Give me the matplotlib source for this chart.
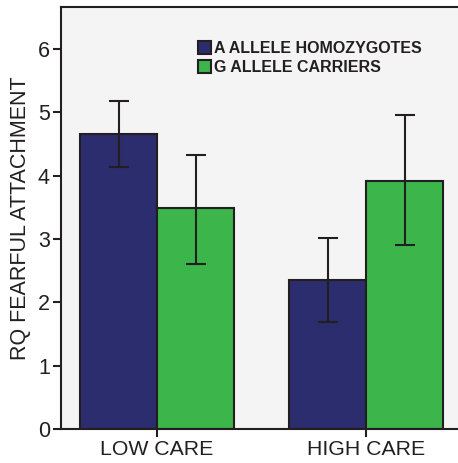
import matplotlib.pyplot as plt
import numpy as np

plt.rcParams['font.family'] = ['Liberation Sans', 'DejaVu Sans']

categories = ['LOW CARE', 'HIGH CARE']
series = ['A ALLELE HOMOZYGOTES', 'G ALLELE CARRIERS']
means_a = [4.66, 2.35]
lo_a = [4.13, 1.69]
hi_a = [5.17, 3.01]
means_g = [3.48, 3.92]
lo_g = [2.61, 2.90]
hi_g = [4.33, 4.96]
yticks = [0, 1, 2, 3, 4, 5, 6]

col_a = '#2b2d6e'
col_g = '#3cb54a'
dark = '#231f20'

fig = plt.figure(figsize=(4.58, 4.63), dpi=100)
ax = fig.add_axes([61/458, 34/463, 1 - 61/458 + 0.01, 422/463])
ax.set_facecolor('#f4f4f4')

x = np.arange(len(categories))
w = 0.368

def draw(xs, m, lo, hi, col, lab):
    m = np.array(m)
    err = [m - np.array(lo), np.array(hi) - m]
    b = ax.bar(xs, m, w, color=col, edgecolor=dark, linewidth=1.5, label=lab, zorder=2)
    ax.errorbar(xs, m, yerr=err, fmt='none', ecolor=dark, elinewidth=1.5,
                capsize=7, capthick=1.5, zorder=3)
    return b

draw(x - w/2, means_a, lo_a, hi_a, col_a, series[0])
draw(x + w/2, means_g, lo_g, hi_g, col_g, series[1])

ax.set_xlim(-0.459, 1.46)
ax.set_ylim(0, 6.66)
ax.set_xticks(x)
ax.set_xticklabels(categories, fontsize=15.3, color=dark)
ax.set_yticks(yticks)
ax.set_yticklabels([str(t) for t in yticks], fontsize=15.5, color=dark)
ax.tick_params(axis='both', direction='out', length=6, width=1.5, color=dark, pad=2)
ax.set_ylabel('RQ FEARFUL ATTACHMENT', fontsize=15.5, color=dark, labelpad=5)

for s in ['left', 'bottom', 'top']:
    ax.spines[s].set_linewidth(1.5)
    ax.spines[s].set_color(dark)
ax.spines['right'].set_visible(False)

leg = ax.legend(loc='upper left', bbox_to_anchor=(0.325, 0.935), frameon=False,
                handlelength=0.85, handleheight=0.85, handletextpad=0.15,
                labelspacing=0.28, borderaxespad=0,
                prop={'weight': 'bold', 'size': 11.5})
for t in leg.get_texts():
    t.set_color(dark)

fig.savefig('out.png', dpi=100)
